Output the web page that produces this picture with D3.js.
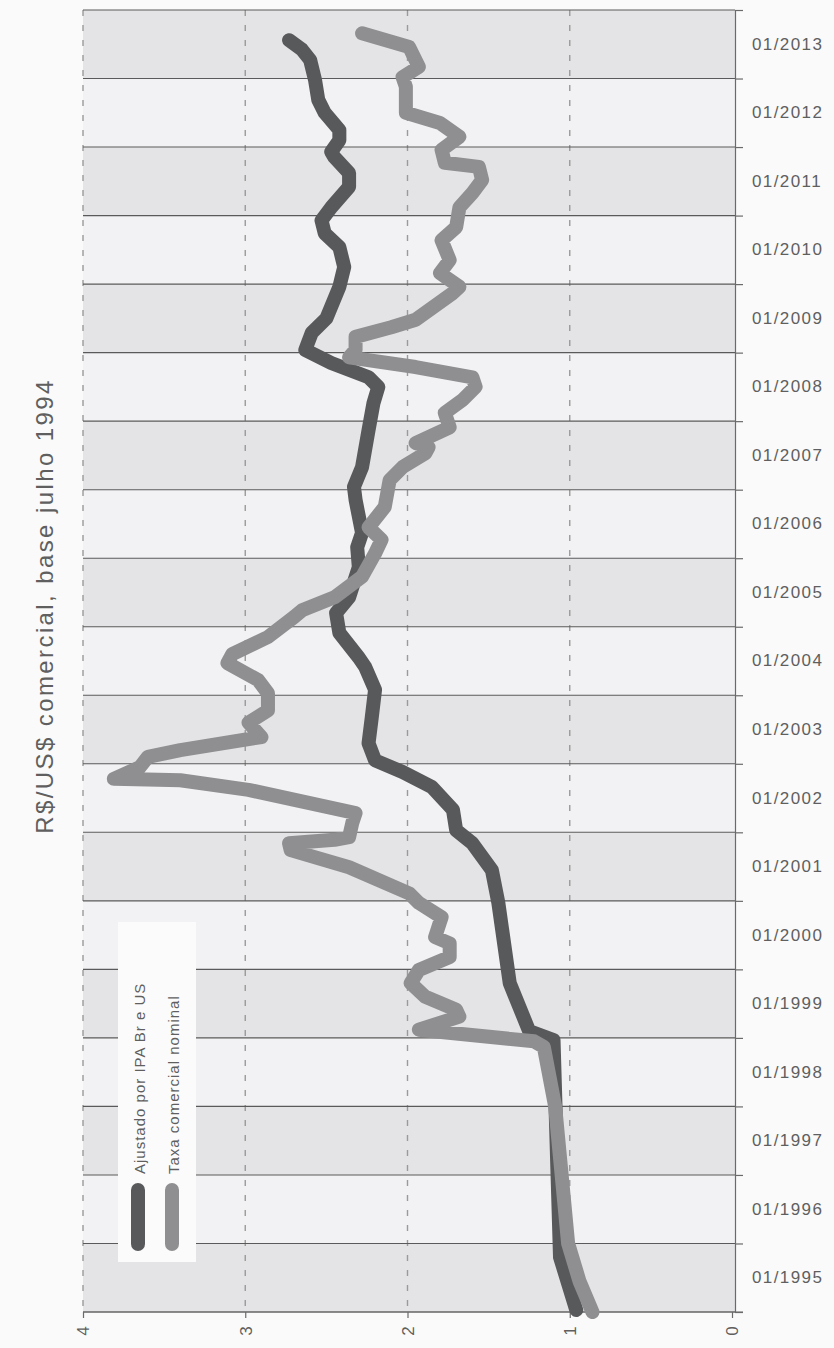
<!DOCTYPE html>
<html lang="pt">
<head>
  <meta charset="UTF-8">
  <title>R$/US$ comercial</title>
  <script src="https://d3js.org/d3.v7.min.js"></script>
  <style>
    body { margin: 0; background: #fafafa; }
    text { font-family: "Liberation Sans", Arial, sans-serif; fill: #5f5f5f; }
  </style>
</head>
<body>
<div id="chart"></div>
<script>
  // year bands on the time axis (one band per calendar year)
  const years = [1995, 1996, 1997, 1998, 1999, 2000, 2001, 2002, 2003, 2004,
                 2005, 2006, 2007, 2008, 2009, 2010, 2011, 2012, 2013];
  const yearLabels = ["01/1995", "01/1996", "01/1997", "01/1998", "01/1999", "01/2000",
                      "01/2001", "01/2002", "01/2003", "01/2004", "01/2005", "01/2006",
                      "01/2007", "01/2008", "01/2009", "01/2010", "01/2011", "01/2012", "01/2013"];
  const valueTicks = [0, 1, 2, 3, 4];
  const seriesNames = ["Ajustado por IPA Br e US", "Taxa comercial nominal"];
  const axisTitle = "R$/US$ comercial, base julho 1994";

  // series (decimal year, R$/US$)
  const ajustadoDates = [1995.03, 1995.80, 1998.97, 1999.10, 1999.80, 2000.97, 2001.45, 2001.84,
    2002.03, 2002.33, 2002.66, 2002.88, 2003.05, 2003.30, 2003.68, 2004.08, 2004.41, 2004.55,
    2004.91, 2005.20, 2005.43, 2005.87, 2006.16, 2006.37, 2006.85, 2007.04, 2007.33, 2007.87,
    2008.26, 2008.50, 2008.64, 2008.85, 2009.04, 2009.29, 2009.50, 2009.96, 2010.25, 2010.54,
    2010.74, 2010.93, 2011.12, 2011.42, 2011.62, 2011.85, 2011.93, 2012.10, 2012.25, 2012.50,
    2012.69, 2012.98, 2013.27, 2013.42, 2013.56];
  const ajustadoValues = [0.96, 1.06, 1.10, 1.25, 1.37, 1.44, 1.48, 1.60,
    1.70, 1.72, 1.85, 2.03, 2.20, 2.24, 2.22, 2.20, 2.26, 2.30,
    2.42, 2.44, 2.36, 2.30, 2.31, 2.28, 2.32, 2.33, 2.28, 2.24,
    2.21, 2.18, 2.24, 2.47, 2.63, 2.59, 2.50, 2.42, 2.39, 2.42,
    2.51, 2.53, 2.47, 2.36, 2.36, 2.45, 2.47, 2.42, 2.42, 2.51,
    2.55, 2.57, 2.60, 2.65, 2.73];

  const nominalDates = [1995.00, 1995.45, 1996.00, 1997.00, 1998.00, 1998.87, 1998.95, 1999.12,
    1999.31, 1999.41, 1999.60, 1999.80, 1999.99, 2000.18, 2000.38, 2000.47, 2000.76, 2000.97,
    2001.11, 2001.49, 2001.74, 2001.84, 2001.89, 2001.93, 2002.14, 2002.28, 2002.62, 2002.76,
    2002.78, 2002.95, 2003.10, 2003.20, 2003.39, 2003.60, 2003.78, 2004.03, 2004.22, 2004.47,
    2004.60, 2004.85, 2005.14, 2005.24, 2005.43, 2005.73, 2006.07, 2006.27, 2006.45, 2006.75,
    2007.14, 2007.33, 2007.53, 2007.62, 2007.68, 2007.91, 2008.12, 2008.31, 2008.50, 2008.64,
    2008.79, 2008.93, 2009.04, 2009.23, 2009.37, 2009.48, 2009.87, 2009.96, 2010.16, 2010.35,
    2010.64, 2010.83, 2011.12, 2011.33, 2011.52, 2011.71, 2011.77, 2011.96, 2012.15, 2012.35,
    2012.50, 2012.88, 2013.02, 2013.17, 2013.46, 2013.66];
  const nominalValues = [0.86, 0.94, 1.01, 1.05, 1.09, 1.16, 1.22, 1.93,
    1.68, 1.70, 1.89, 1.98, 1.93, 1.74, 1.74, 1.83, 1.79, 1.93,
    1.99, 2.36, 2.72, 2.73, 2.45, 2.36, 2.34, 2.32, 2.98, 3.40,
    3.81, 3.65, 3.60, 3.40, 2.90, 2.98, 2.86, 2.86, 2.92, 3.11,
    3.08, 2.86, 2.70, 2.65, 2.45, 2.28, 2.20, 2.16, 2.24, 2.14,
    2.11, 2.03, 1.89, 1.87, 1.95, 1.74, 1.77, 1.66, 1.58, 1.60,
    1.95, 2.36, 2.32, 2.32, 2.10, 1.95, 1.72, 1.68, 1.80, 1.74,
    1.79, 1.70, 1.68, 1.60, 1.54, 1.56, 1.77, 1.79, 1.68, 1.80,
    2.01, 2.01, 2.03, 1.93, 1.99, 2.28];

  const width = 834, height = 1348;
  const plotLeft = 83, plotRight = 735, plotTop = 10, plotBottom = 1312;

  const svg = d3.select("#chart").append("svg")
          .attr("width", width)
          .attr("height", height);

  // value runs right -> left, time runs bottom -> top
  const xScale = d3.scaleLinear().domain([0, 4]).range([732, plotLeft]);
  const yScale = d3.scaleLinear().domain([1995, 2014]).range([plotBottom, plotTop]);
  const yBand = d3.scaleBand().domain(years).range([plotBottom, plotTop]);

  // alternating year bands
  svg.append("g").selectAll("rect")
          .data(years)
          .join("rect")
          .attr("x", plotLeft)
          .attr("width", plotRight - plotLeft)
          .attr("y", d => yBand(d))
          .attr("height", yBand.bandwidth())
          .attr("fill", d => d % 2 ? "#e4e4e6" : "#f2f2f4");

  // dashed value gridlines
  svg.append("g").selectAll("line")
          .data(valueTicks.filter(d => d > 0))
          .join("line")
          .attr("x1", d => xScale(d)).attr("x2", d => xScale(d))
          .attr("y1", plotTop).attr("y2", plotBottom)
          .attr("stroke", "#9a9a9a")
          .attr("stroke-width", 1.4)
          .attr("stroke-dasharray", "6,9");

  // year boundary lines
  svg.append("g").selectAll("line")
          .data(d3.range(1995, 2015))
          .join("line")
          .attr("x1", plotLeft).attr("x2", plotRight)
          .attr("y1", d => yScale(d)).attr("y2", d => yScale(d))
          .attr("stroke", "#5a5a5a")
          .attr("stroke-width", 1.1);

  // time axis on the right: ticks at year edges, labels in the band centres
  svg.append("g")
          .attr("transform", `translate(${plotRight},0)`)
          .call(d3.axisRight(yScale).tickValues(d3.range(1995, 2015)).tickSize(8).tickFormat(""))
          .call(g => g.selectAll("path, line").attr("stroke", "#6a6a6a").attr("stroke-width", 1.2));

  svg.append("g")
          .attr("transform", `translate(${plotRight},0)`)
          .call(d3.axisRight(yBand).tickSize(0).tickPadding(17).tickFormat((d, i) => yearLabels[i]))
          .call(g => g.select(".domain").remove())
          .call(g => g.selectAll("text")
                  .style("font-size", "17px")
                  .style("letter-spacing", "1.4px")
                  .attr("fill", "#666"));

  // value axis at the bottom, rotated labels
  svg.append("g")
          .attr("transform", `translate(0,${plotBottom})`)
          .call(d3.axisBottom(xScale).tickValues(valueTicks).tickSize(6).tickFormat(d3.format("d")))
          .call(g => g.select(".domain").attr("d", `M${plotLeft},0H${plotRight + 8}`))
          .call(g => g.selectAll("path, line").attr("stroke", "#6a6a6a").attr("stroke-width", 1.2))
          .call(g => g.selectAll("text")
                  .attr("y", 0).attr("dy", "0.35em")
                  .attr("transform", "translate(0,19) rotate(-90)")
                  .style("text-anchor", "middle")
                  .style("font-size", "17px")
                  .attr("fill", "#555"));

  // axis title
  svg.append("text")
          .attr("transform", "translate(53,606) rotate(-90)")
          .style("text-anchor", "middle")
          .style("font-size", "24px")
          .style("letter-spacing", "2.4px")
          .attr("fill", "#666")
          .text(axisTitle);

  // lines
  const line = d3.line()
          .x(d => xScale(d[1]))
          .y(d => yScale(d[0]));

  const series = [
    {name: seriesNames[0], color: "#58595b", pts: d3.zip(ajustadoDates, ajustadoValues)},
    {name: seriesNames[1], color: "#8f8f91", pts: d3.zip(nominalDates, nominalValues)}
  ];

  svg.append("g").selectAll("path")
          .data(series)
          .join("path")
          .attr("d", d => line(d.pts))
          .attr("fill", "none")
          .attr("stroke", d => d.color)
          .attr("stroke-width", 14)
          .attr("stroke-linecap", "round")
          .attr("stroke-linejoin", "round");

  // legend
  const legend = svg.append("g");
  legend.append("rect")
          .attr("x", 118).attr("y", 922)
          .attr("width", 78).attr("height", 340)
          .attr("fill", "#fbfbfb");

  const items = legend.selectAll("g.item")
          .data(series)
          .join("g")
          .attr("class", "item")
          .attr("transform", (d, i) => `translate(${138 + i * 34},0)`);

  items.append("line")
          .attr("x1", 0).attr("x2", 0)
          .attr("y1", 1190).attr("y2", 1244)
          .attr("stroke", d => d.color)
          .attr("stroke-width", 14)
          .attr("stroke-linecap", "round");

  items.append("text")
          .attr("transform", "translate(7,1174) rotate(-90)")
          .style("font-size", "15px")
          .style("letter-spacing", "1px")
          .attr("fill", "#444")
          .text(d => d.name);
</script>
</body>
</html>
